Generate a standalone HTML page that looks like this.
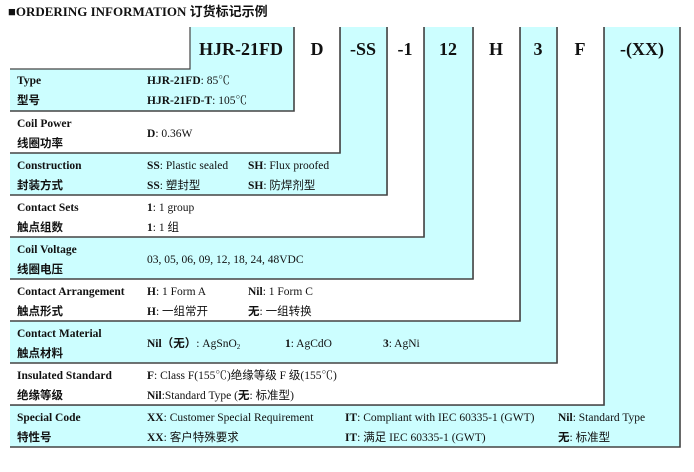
<!DOCTYPE html>
<html><head><meta charset="utf-8"><style>
body{margin:0;background:#fff;width:694px;height:467px;overflow:hidden}
svg text{font-family:"Liberation Serif","Noto Serif CJK SC",serif;fill:#111}
.b{font-weight:bold}
.c{font-family:"Liberation Serif","Noto Sans CJK SC",sans-serif}
</style></head><body>
<svg width="694" height="467" xmlns="http://www.w3.org/2000/svg">
<text x="8" y="16" class="b" font-size="13">■ORDERING INFORMATION <tspan font-family="Noto Sans CJK SC" font-weight="bold">订货标记示例</tspan></text>
<g stroke="#444" stroke-width="1.2">
<polygon points="10,405 604,405 604,27 680,27 680,447 10,447" fill="#ccfeff" stroke="none"/>
<polyline points="604,27 604,405 10,405 M10,447" fill="none"/>
<polyline points="10,447 680,447 680,27" fill="none" stroke-width="1.6"/>
<polygon points="10,363 557,363 557,27 604,27 604,405 10,405" fill="#fff" stroke="none"/>
<polyline points="557,27 557,363" fill="none"/>
<polyline points="10,405 604,405 604,27" fill="none" stroke-width="1.6"/>
<polygon points="10,321 520,321 520,27 557,27 557,363 10,363" fill="#ccfeff" stroke="none"/>
<polyline points="520,27 520,321" fill="none"/>
<polyline points="10,363 557,363 557,27" fill="none" stroke-width="1.6"/>
<polygon points="10,279 473,279 473,27 520,27 520,321 10,321" fill="#fff" stroke="none"/>
<polyline points="473,27 473,279" fill="none"/>
<polyline points="10,321 520,321 520,27" fill="none" stroke-width="1.6"/>
<polygon points="10,237 424,237 424,27 473,27 473,279 10,279" fill="#ccfeff" stroke="none"/>
<polyline points="424,27 424,237" fill="none"/>
<polyline points="10,279 473,279 473,27" fill="none" stroke-width="1.6"/>
<polygon points="10,195 387,195 387,27 424,27 424,237 10,237" fill="#fff" stroke="none"/>
<polyline points="387,27 387,195" fill="none"/>
<polyline points="10,237 424,237 424,27" fill="none" stroke-width="1.6"/>
<polygon points="10,153 340,153 340,27 387,27 387,195 10,195" fill="#ccfeff" stroke="none"/>
<polyline points="340,27 340,153" fill="none"/>
<polyline points="10,195 387,195 387,27" fill="none" stroke-width="1.6"/>
<polygon points="10,111 294,111 294,27 340,27 340,153 10,153" fill="#fff" stroke="none"/>
<polyline points="10,153 340,153 340,27" fill="none" stroke-width="1.6"/>
<polygon points="10,69 190,69 190,27 294,27 294,111 10,111" fill="#ccfeff" stroke="none"/>
<polyline points="190,27 190,69 10,69" fill="none"/>
<polyline points="10,111 294,111 294,27" fill="none" stroke-width="1.6"/>
</g>
<g class="b" font-size="18" text-anchor="middle">
<text x="241" y="55">HJR-21FD</text><text x="317" y="55">D</text><text x="363" y="55">-SS</text>
<text x="405" y="55">-1</text><text x="448" y="55">12</text><text x="496" y="55">H</text>
<text x="538" y="55">3</text><text x="580" y="55">F</text><text x="642" y="55">-(XX)</text>
</g>
<g font-size="11.5">
<text x="17" y="84" class="b">Type</text><text x="17" y="104" class="b c">型号</text>
<text x="147" y="84"><tspan class="b">HJR-21FD</tspan>: 85℃</text>
<text x="147" y="104"><tspan class="b">HJR-21FD-T</tspan>: 105℃</text>

<text x="17" y="127" class="b">Coil Power</text><text x="17" y="147" class="b c">线圈功率</text>
<text x="147" y="137"><tspan class="b">D</tspan>: 0.36W</text>

<text x="17" y="169" class="b">Construction</text><text x="17" y="189" class="b c">封装方式</text>
<text x="147" y="169"><tspan class="b">SS</tspan>: Plastic sealed</text>
<text x="248" y="169"><tspan class="b">SH</tspan>: Flux proofed</text>
<text x="147" y="189"><tspan class="b">SS</tspan>: <tspan class="c">塑封型</tspan></text>
<text x="248" y="189"><tspan class="b">SH</tspan>: <tspan class="c">防焊剂型</tspan></text>

<text x="17" y="211" class="b">Contact Sets</text><text x="17" y="231" class="b c">触点组数</text>
<text x="147" y="211"><tspan class="b">1</tspan>: 1 group</text>
<text x="147" y="231"><tspan class="b">1</tspan>: 1 <tspan class="c">组</tspan></text>

<text x="17" y="253" class="b">Coil Voltage</text><text x="17" y="273" class="b c">线圈电压</text>
<text x="147" y="263">03, 05, 06, 09, 12, 18, 24, 48VDC</text>

<text x="17" y="295" class="b">Contact Arrangement</text><text x="17" y="315" class="b c">触点形式</text>
<text x="147" y="295"><tspan class="b">H</tspan>: 1 Form A</text>
<text x="248" y="295"><tspan class="b">Nil</tspan>: 1 Form C</text>
<text x="147" y="315"><tspan class="b">H</tspan>: <tspan class="c">一组常开</tspan></text>
<text x="248" y="315"><tspan class="b c">无</tspan>: <tspan class="c">一组转换</tspan></text>

<text x="17" y="337" class="b">Contact Material</text><text x="17" y="357" class="b c">触点材料</text>
<text x="147" y="347"><tspan class="b">Nil</tspan><tspan class="b c">（无）</tspan>: AgSnO<tspan font-size="7" dy="2">2</tspan></text>
<text x="285" y="347"><tspan class="b">1</tspan>: AgCdO</text>
<text x="383" y="347"><tspan class="b">3</tspan>: AgNi</text>

<text x="17" y="379" class="b">Insulated Standard</text><text x="17" y="399" class="b c">绝缘等级</text>
<text x="147" y="379"><tspan class="b">F</tspan>: Class F(155℃)<tspan class="c">绝缘等级</tspan> F <tspan class="c">级</tspan>(155℃)</text>
<text x="147" y="399"><tspan class="b">Nil</tspan>:Standard Type (<tspan class="b c">无</tspan>: <tspan class="c">标准型</tspan>)</text>

<text x="17" y="421" class="b">Special Code</text><text x="17" y="441" class="b c">特性号</text>
<text x="147" y="421"><tspan class="b">XX</tspan>:  Customer Special Requirement</text>
<text x="345" y="421"><tspan class="b">IT</tspan>: Compliant with IEC 60335-1 (GWT)</text>
<text x="558" y="421"><tspan class="b">Nil</tspan>: Standard Type</text>
<text x="147" y="441"><tspan class="b">XX</tspan>:  <tspan class="c">客户特殊要求</tspan></text>
<text x="345" y="441"><tspan class="b">IT</tspan>:  <tspan class="c">满足</tspan> IEC 60335-1 (GWT)</text>
<text x="558" y="441"><tspan class="b c">无</tspan>: <tspan class="c">标准型</tspan></text>
</g>
</svg>
</body></html>
